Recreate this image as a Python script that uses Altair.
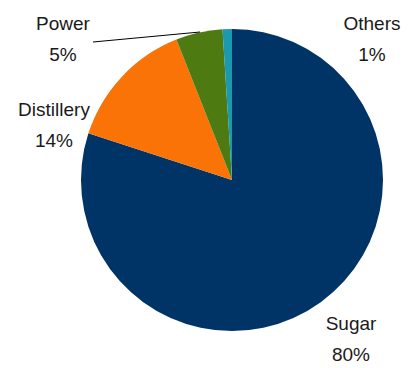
import altair as alt
import pandas as pd

# ---- data ----
categories = ["Sugar", "Distillery", "Power", "Others"]
shares = [80, 14, 5, 1]
colors = ["#003366", "#F97306", "#4E7A12", "#1B9AAF"]

df = pd.DataFrame({
    "cat": categories,
    "value": shares,
    "idx": list(range(len(categories))),
})

# ---- layout (pixels) ----
CX, CY, R = 232, 180, 151
FONT = "Liberation Sans, Arial, sans-serif"
label_pos = {
    "Sugar": (351, 330),
    "Distillery": (54, 116),
    "Power": (63, 30),
    "Others": (372, 30),
}

pie = alt.Chart(df).mark_arc(radius=R).encode(
    theta=alt.Theta("value:Q", stack=True),
    color=alt.Color("cat:N", scale=alt.Scale(domain=categories, range=colors), legend=None),
    order=alt.Order("idx:Q"),
    x=alt.value(CX),
    y=alt.value(CY),
)

layers = [pie]
for c in categories:
    lx, ly = label_pos[c]
    t = alt.Chart(df).transform_filter(
        alt.datum.cat == c
    ).transform_calculate(
        label="datum.cat + '\\n' + datum.value + '%'"
    ).mark_text(
        font=FONT, fontSize=19, color="#1a1a1a", align="center",
        baseline="alphabetic", lineBreak="\n", lineHeight=31,
    ).encode(
        text="label:N",
        x=alt.value(lx),
        y=alt.value(ly),
    )
    layers.append(t)

leader = alt.Chart(df.head(1)).mark_rule(color="#000000", strokeWidth=1).encode(
    x=alt.value(93), y=alt.value(42), x2=alt.value(200), y2=alt.value(32)
)
layers.append(leader)

chart = alt.layer(*layers).properties(
    width=408, height=368, padding=0,
    autosize=alt.AutoSizeParams(type="none"),
).configure_view(stroke=None)

chart.save("out.html", embed_options={"renderer": "svg", "actions": False})
